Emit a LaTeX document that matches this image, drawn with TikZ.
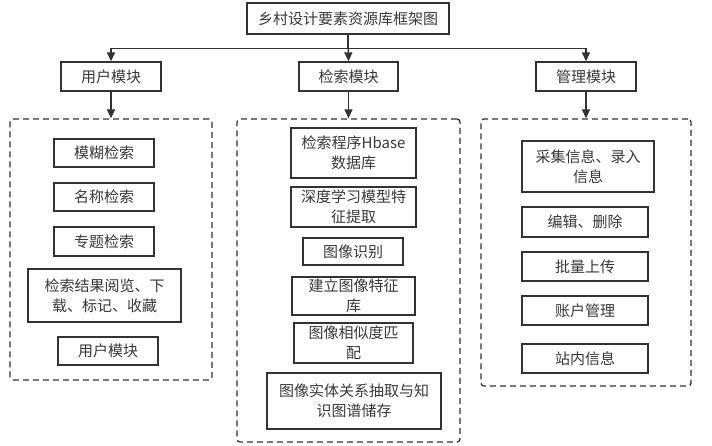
\documentclass[tikz,border=0pt]{standalone}
\usepackage{fontspec}
\setmainfont{Noto Sans CJK SC}
\usetikzlibrary{arrows.meta}
\definecolor{ln}{HTML}{333333}
\definecolor{tx}{HTML}{3A3A3A}
\tikzset{
  box/.style={draw=ln, line width=1.3pt, fill=white, text=tx, inner sep=0pt,
    align=center, font=\fontsize{15}{20}\selectfont},
  group/.style={draw=ln, line width=1.3pt, dash pattern=on 6pt off 4pt, rounded corners=3pt, inner sep=0pt},
  conn/.style={draw=ln, line width=1.3pt, -{Triangle[length=9pt,width=8pt]}},
}
\begin{document}
\begin{tikzpicture}[x=1pt,y=-1pt]
\useasboundingbox[fill=white] (0,0) rectangle (712,446);
% group boxes
\node[group, minimum width=202pt, minimum height=261pt] (gu) at (111,249.5) {};
\node[group, minimum width=223pt, minimum height=323pt] (gs) at (348.5,280.5) {};
\node[group, minimum width=210pt, minimum height=267pt] (ga) at (586,252.5) {};
% top
\node[box, minimum width=202pt, minimum height=31pt] (title) at (348,18.5) {乡村设计要素资源库框架图};
\node[box, minimum width=100pt, minimum height=29pt] (user) at (111,76.5) {用户模块};
\node[box, minimum width=99pt, minimum height=29pt] (search) at (348.5,76.5) {检索模块};
\node[box, minimum width=100pt, minimum height=29pt] (admin) at (586,76.5) {管理模块};
% connectors
\draw[conn] (title.south) -- (search.north);
\draw[conn] (title.south) -- ++(0,14) -| (user.north);
\draw[conn] (title.south) -- ++(0,14) -| (admin.north);
\draw[conn] (user.south) -- (gu.north);
\draw[conn] (search.south) -- (gs.north);
\draw[conn] (admin.south) -- (ga.north);
% left items
\node[box, minimum width=100pt, minimum height=28pt] (u1) at (104,153) {模糊检索};
\node[box, minimum width=100pt, minimum height=28pt] (u2) at (104,197) {名称检索};
\node[box, minimum width=100pt, minimum height=29pt] (u3) at (104,241.5) {专题检索};
\node[box, minimum width=153pt, minimum height=53pt] (u4) at (104.5,295.5) {检索结果阅览、下\\载、标记、收藏};
\node[box, minimum width=100pt, minimum height=28pt] (u5) at (108,351) {用户模块};
% middle items
\node[box, minimum width=125pt, minimum height=50pt] (s1) at (353.5,153) {检索程序Hbase\\数据库};
\node[box, minimum width=125pt, minimum height=40pt] (s2) at (353.5,207) {深度学习模型特\\征提取};
\node[box, minimum width=100pt, minimum height=27pt] (s3) at (353,251.5) {图像识别};
\node[box, minimum width=123pt, minimum height=38pt] (s4) at (353.5,296) {建立图像特征\\库};
\node[box, minimum width=119pt, minimum height=40pt] (s5) at (353.5,343) {图像相似度匹\\配};
\node[box, minimum width=174pt, minimum height=56pt] (s6) at (354,401) {图像实体关系抽取与知\\识图谱储存};
% right items
\node[box, minimum width=132pt, minimum height=51pt] (a1) at (588,166.5) {采集信息、录入\\信息};
\node[box, minimum width=126pt, minimum height=30pt] (a2) at (585,222) {编辑、删除};
\node[box, minimum width=126pt, minimum height=29pt] (a3) at (585,266.5) {批量上传};
\node[box, minimum width=126pt, minimum height=29pt] (a4) at (585,310.5) {账户管理};
\node[box, minimum width=126pt, minimum height=29pt] (a5) at (585,358.5) {站内信息};
\end{tikzpicture}
\end{document}
